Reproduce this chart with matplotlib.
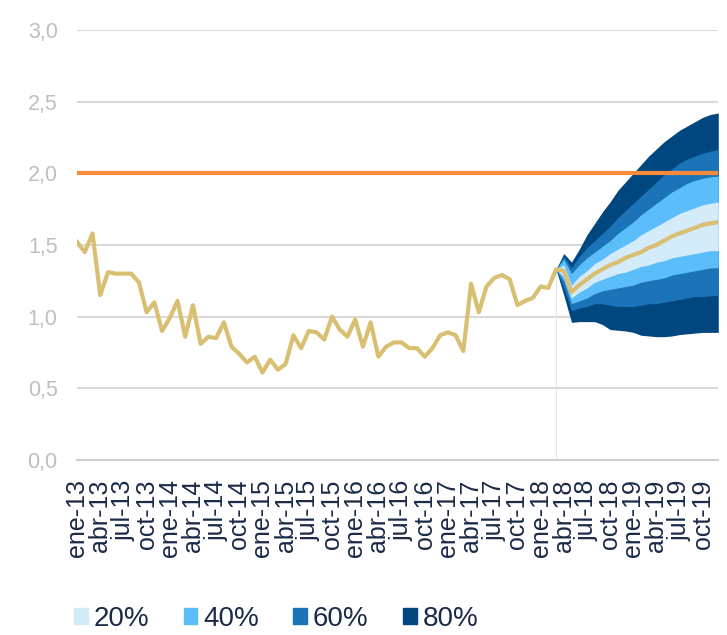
import numpy as np
import matplotlib
matplotlib.use("Agg")
import matplotlib.pyplot as plt
from matplotlib.patches import Patch

plt.rcParams['font.family'] = ['Liberation Sans', 'DejaVu Sans']

# monthly axis, ene-13 .. dic-19
months = ['ene', 'feb', 'mar', 'abr', 'may', 'jun', 'jul', 'ago', 'sep', 'oct', 'nov', 'dic']
dates = [f'{m}-{y}' for y in range(13, 20) for m in months]

# observed series, ene-13 .. mar-18
hist = [1.52, 1.45, 1.58, 1.15, 1.31, 1.30, 1.30, 1.30, 1.24, 1.03,
        1.10, 0.90, 0.99, 1.11, 0.86, 1.08, 0.81, 0.86, 0.85, 0.96,
        0.79, 0.74, 0.68, 0.72, 0.61, 0.70, 0.63, 0.67, 0.87, 0.78,
        0.90, 0.89, 0.84, 1.00, 0.91, 0.86, 0.98, 0.79, 0.96, 0.72,
        0.79, 0.82, 0.82, 0.78, 0.78, 0.72, 0.78, 0.87, 0.89, 0.87,
        0.76, 1.23, 1.03, 1.21, 1.27, 1.29, 1.26, 1.08, 1.11, 1.13,
        1.21, 1.20, 1.33]

# projection, mar-18 .. dic-19
median = [1.33, 1.32, 1.17, 1.22, 1.26, 1.30, 1.33, 1.36, 1.38, 1.41, 1.43,
          1.45, 1.48, 1.50, 1.53, 1.56, 1.58, 1.60, 1.62, 1.64, 1.65, 1.66]
up80 = [1.33, 1.44, 1.38, 1.47, 1.57, 1.65, 1.73, 1.80, 1.88, 1.94, 2.00,
        2.06, 2.12, 2.17, 2.22, 2.26, 2.30, 2.33, 2.36, 2.39, 2.41, 2.42]
up60 = [1.33, 1.42, 1.34, 1.42, 1.48, 1.53, 1.58, 1.63, 1.69, 1.74, 1.79,
        1.84, 1.89, 1.94, 1.99, 2.03, 2.07, 2.10, 2.12, 2.14, 2.155, 2.165]
up40 = [1.33, 1.40, 1.30, 1.36, 1.41, 1.45, 1.49, 1.53, 1.58, 1.62, 1.66,
        1.71, 1.75, 1.79, 1.83, 1.87, 1.90, 1.93, 1.95, 1.965, 1.975, 1.98]
up20 = [1.33, 1.36, 1.22, 1.28, 1.32, 1.37, 1.40, 1.44, 1.47, 1.50, 1.53,
        1.57, 1.60, 1.63, 1.66, 1.69, 1.72, 1.74, 1.76, 1.78, 1.79, 1.80]
low20 = [1.33, 1.28, 1.13, 1.17, 1.20, 1.24, 1.26, 1.28, 1.30, 1.31, 1.33,
         1.35, 1.36, 1.38, 1.39, 1.41, 1.42, 1.43, 1.44, 1.45, 1.46, 1.46]
low40 = [1.33, 1.25, 1.09, 1.11, 1.13, 1.16, 1.18, 1.19, 1.20, 1.21, 1.22,
         1.24, 1.25, 1.26, 1.27, 1.29, 1.30, 1.31, 1.32, 1.33, 1.34, 1.34]
low60 = [1.33, 1.20, 1.04, 1.06, 1.07, 1.09, 1.09, 1.08, 1.07, 1.07, 1.07,
         1.08, 1.09, 1.09, 1.10, 1.11, 1.12, 1.13, 1.14, 1.14, 1.145, 1.15]
low80 = [1.33, 1.15, 0.96, 0.965, 0.965, 0.965, 0.945, 0.91, 0.905, 0.90, 0.89,
         0.87, 0.865, 0.86, 0.86, 0.865, 0.875, 0.88, 0.885, 0.89, 0.89, 0.89]

target = 2.0

bands = ['20%', '40%', '60%', '80%']
band_colors = ['#D4EBFA', '#5BBDFA', '#1B74B8', '#00467F']
gold = '#D9BF72'
orange = '#F58A3B'
text_col = '#1B2A47'

fig, ax = plt.subplots(figsize=(7.27, 6.35), dpi=100)
fig.subplots_adjust(left=0.106, right=0.988, top=0.953, bottom=0.2756)

xh = np.arange(len(hist))
xf = np.arange(len(hist) - 1, len(hist) - 1 + len(median))

ax.fill_between(xf, low80, up80, color=band_colors[3], lw=0, zorder=2)
ax.fill_between(xf, low60, up60, color=band_colors[2], lw=0, zorder=2)
ax.fill_between(xf, low40, up40, color=band_colors[1], lw=0, zorder=2)
ax.fill_between(xf, low20, up20, color=band_colors[0], lw=0, zorder=2)

ax.vlines(xf[0], 0, hist[-1], color='#E6E6E6', lw=0.8, zorder=1)
ax.axhline(target, color=orange, lw=3, zorder=3)
ax.plot(np.concatenate([xh, xf[1:]]), hist + median[1:], color=gold, lw=3, zorder=4,
        solid_joinstyle='round')

ax.set_xlim(0, 83)
ax.set_ylim(0, 3)
ax.set_yticks(np.arange(0, 3.01, 0.5))
ax.set_yticklabels([f'{v:.1f}'.replace('.', ',') for v in np.arange(0, 3.01, 0.5)],
                   fontsize=15.5, color='#BFBFBF')
ax.yaxis.grid(True, color='#D9D9D9', lw=1.5)
ax.set_axisbelow(True)

ax.set_xticks(range(0, 84, 3))
ax.set_xticklabels(dates[::3], rotation=90, fontsize=18, color=text_col)
ax.tick_params(axis='x', length=0, pad=14)
ax.tick_params(axis='y', length=0, pad=14)

for s in ['top', 'right', 'left']:
    ax.spines[s].set_visible(False)
ax.spines['bottom'].set_color('#D0D0D0')
ax.spines['bottom'].set_linewidth(1.5)

handles = [Patch(color=c) for c in band_colors]
fig.legend(handles, bands, loc='lower left', bbox_to_anchor=(0.067, -0.035), ncol=4,
           frameon=False, fontsize=20, handlelength=0.5, handleheight=0.5,
           handletextpad=0.2, columnspacing=1.25, labelcolor=text_col)

fig.savefig('out.png', dpi=100)
